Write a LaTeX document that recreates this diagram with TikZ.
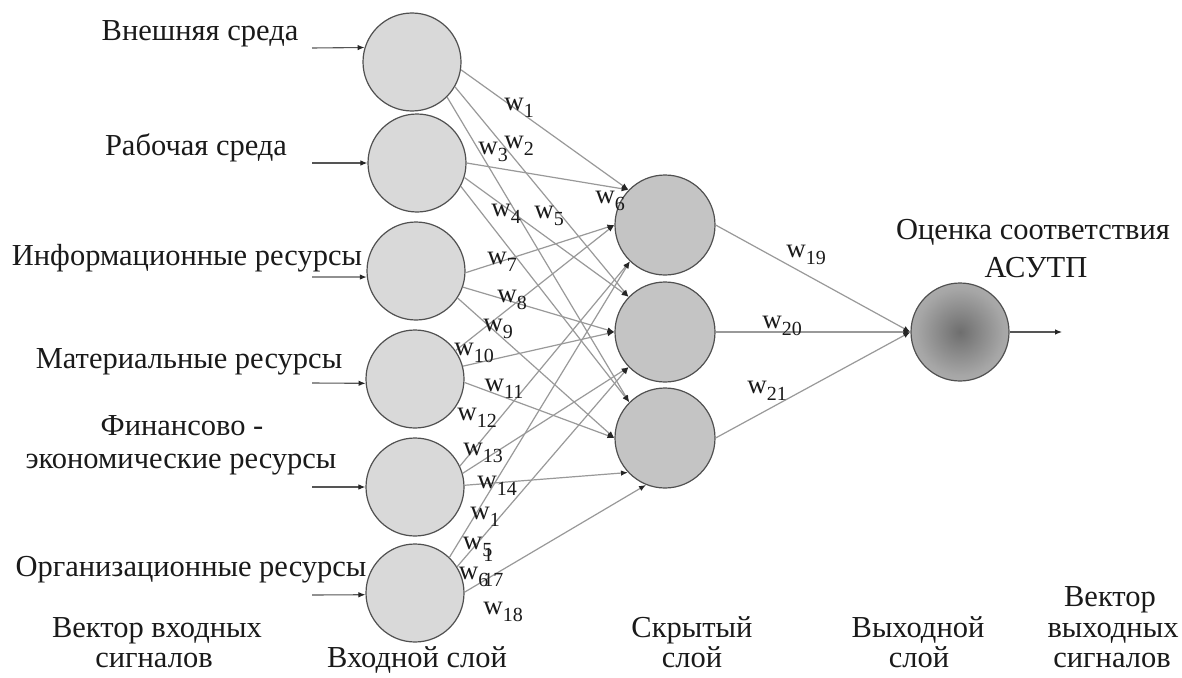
\documentclass[tikz,border=0pt]{standalone}
\usepackage{fontspec}
\setmainfont{Liberation Serif}
\usetikzlibrary{arrows.meta}
\definecolor{inFill}{HTML}{D9D9D9}
\definecolor{hidFill}{HTML}{C4C4C4}
\definecolor{ringc}{HTML}{505050}
\definecolor{wirec}{HTML}{999999}
\definecolor{feedc}{HTML}{555555}
\definecolor{txt}{HTML}{1A1A1A}
\definecolor{shadeIn}{HTML}{6E6E6E}
\definecolor{shadeMid}{HTML}{A6A6A6}
\definecolor{shadeOut}{HTML}{CBCBCB}
\pgfdeclareradialshading{outshade}{\pgfpoint{0bp}{0bp}}{color(0bp)=(shadeIn); color(22bp)=(shadeMid); color(50bp)=(shadeOut)}
\newcommand\wsub[1]{w\raisebox{-7pt}{\fontsize{20}{20}\selectfont #1}}
\tikzset{
  neuron/.style={circle, draw=ringc, line width=1.2pt, minimum size=98pt, inner sep=0pt},
  inneuron/.style={neuron, fill=inFill},
  hidneuron/.style={neuron, fill=hidFill, minimum size=100pt},
  outneuron/.style={neuron, shading=outshade},
  wire/.style={draw=wirec, line width=1.2pt, -{Latex[length=7pt,width=5.5pt,color=black!85]}},
  feed/.style={draw=feedc, line width=1.1pt, -{Latex[length=7pt,width=5.5pt,color=black!85]}},
  lbl/.style={font=\fontsize{30.5}{34}\selectfont, text=txt, inner sep=0pt, anchor=base},
  wlab/.style={font=\fontsize{27}{27}\selectfont, text=txt, inner sep=0pt}
}
\begin{document}
\begin{tikzpicture}[x=1pt,y=-1pt]
\fill[white] (0,0) rectangle (1182,677);
\useasboundingbox (0,0) rectangle (1182,677);

% input layer
\node[inneuron] (i1) at (412,62) {};
\node[inneuron] (i2) at (417,163) {};
\node[inneuron] (i3) at (416,271) {};
\node[inneuron] (i4) at (415,379) {};
\node[inneuron] (i5) at (415,487) {};
\node[inneuron] (i6) at (415,593) {};
% hidden layer
\node[hidneuron] (h1) at (665,225) {};
\node[hidneuron] (h2) at (665,332) {};
\node[hidneuron] (h3) at (665,438) {};
% output
\node[outneuron] (o) at (960,332) {};

% input signals
\coordinate (s1) at (312,48);
\coordinate (s2) at (312,163);
\coordinate (s3) at (312,277);
\coordinate (s4) at (312,383);
\coordinate (s5) at (312,487);
\coordinate (s6) at (312,595);
\coordinate (oend) at (1062,332);
\draw[feed] (s1) -- (i1.163);
\draw[feed] (s2) -- (i2.180);
\draw[feed] (s3) -- (i3.187);
\draw[feed] (s4) -- (i4.185);
\draw[feed] (s5) -- (i5.180);
\draw[feed] (s6) -- (i6.182);

% input -> hidden
\draw[wire] (i1.-9) -- (h1.136);
\draw[wire] (i1.-30) -- (h2.136);
\draw[wire] (i1.-45) -- (h3.135);
\draw[wire] (i2.0) -- (h1.136);
\draw[wire] (i2.-17) -- (h2.136);
\draw[wire] (i2.-28) -- (h3.135);
\draw[wire] (i3.-2) -- (h1.180);
\draw[wire] (i3.-19) -- (h2.180);
\draw[wire] (i3.-33) -- (h3.180);
\draw[wire] (i4.35) -- (h1.180);
\draw[wire] (i4.15) -- (h2.180);
\draw[wire] (i4.-4) -- (h3.180);
\draw[wire] (i5.25) -- (h1.226);
\draw[wire] (i5.16) -- (h2.224);
\draw[wire] (i5.2) -- (h3.223);
\draw[wire] (i6.46) -- (h1.226);
\draw[wire] (i6.32) -- (h2.224);
\draw[wire] (i6.1) -- (h3.248);

% hidden -> output
\draw[wire] (h1.0) -- (o.180);
\draw[wire] (h2.0) -- (o.180);
\draw[wire] (h3.0) -- (o.180);
\draw[feed] (o.0) -- (oend);

% weights
\node[wlab] (w1) at (519,108) {\wsub{1}};
\node[wlab] (w2) at (519,146) {\wsub{2}};
\node[wlab] (w3) at (493,152) {\wsub{3}};
\node[wlab] (w4) at (506,214) {\wsub{4}};
\node[wlab] (w5) at (549,216) {\wsub{5}};
\node[wlab] (w6) at (610,201) {\wsub{6}};
\node[wlab] (w7) at (502,262) {\wsub{7}};
\node[wlab] (w8) at (512,300) {\wsub{8}};
\node[wlab] (w9) at (498,329) {\wsub{9}};
\node[wlab] (w10) at (474,353) {\wsub{10}};
\node[wlab] (w11) at (504,389) {\wsub{11}};
\node[wlab] (w12) at (477,418) {\wsub{12}};
\node[wlab] (w13) at (483,453) {\wsub{13}};
\node[wlab] (w14) at (497,486) {\wsub{14}};
\node[wlab] (w15) at (485,517) {\wsub{1}};
\node[wlab] (w16) at (478,549) {\wsub{5\kern-9pt\raisebox{-5pt}{1}}};
\node[wlab] (w17) at (481,577) {\wsub{6\kern-5pt 17}};
\node[wlab] (w18) at (503,612) {\wsub{18}};
\node[wlab] (w19) at (806,255) {\wsub{19}};
\node[wlab] (w20) at (782,326) {\wsub{20}};
\node[wlab] (w21) at (767,391) {\wsub{21}};

% labels
\node[lbl] (l1) at (200,41) {Внешняя среда};
\node[lbl] (l2) at (196,155) {Рабочая среда};
\node[lbl] (l3) at (187,265) {Информационные ресурсы};
\node[lbl] (l4) at (189,368) {Материальные ресурсы};
\node[lbl] (l5a) at (182,435) {Финансово -};
\node[lbl] (l5b) at (181,468) {экономические ресурсы};
\node[lbl] (l6) at (191,576) {Организационные ресурсы};
\node[lbl] (t1) at (1033,239) {Оценка соответствия};
\node[lbl] (t2) at (1036,277) {АСУТП};
\node[lbl] (b1) at (157,637) {Вектор входных};
\node[lbl] (b1b) at (154,667) {сигналов};
\node[lbl] (b2) at (417,667) {Входной слой};
\node[lbl] (b3) at (692,637) {Скрытый};
\node[lbl] (b3b) at (692,667) {слой};
\node[lbl] (b4) at (918,637) {Выходной};
\node[lbl] (b4b) at (919,667) {слой};
\node[lbl] (b5) at (1110,606) {Вектор};
\node[lbl] (b5b) at (1113,637) {выходных};
\node[lbl] (b5c) at (1112,667) {сигналов};
\end{tikzpicture}
\end{document}
